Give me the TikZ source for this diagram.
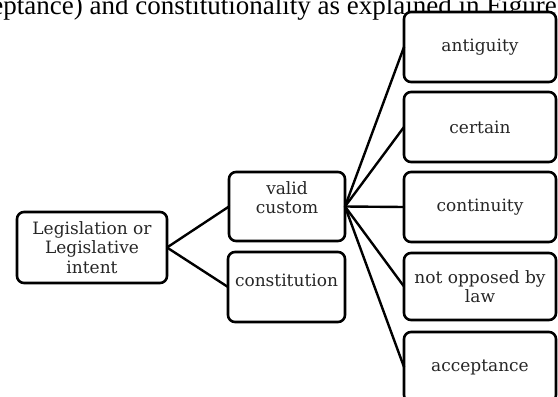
\documentclass[tikz,border=0pt]{standalone}
\usepackage{fontspec}
\setmainfont{DejaVu Serif}
\newfontfamily\topfont{Liberation Serif}
\begin{document}
\begin{tikzpicture}[x=1pt,y=-1pt,
  box/.style={draw=black, line width=2.6pt, rounded corners=7pt, fill=white,
    align=center, outer sep=0pt, inner sep=1pt,
    font=\fontsize{17}{19.5}\selectfont, text=black!85},
  link/.style={draw=black, line width=2.4pt, line cap=round}]
\useasboundingbox (0,0) rectangle (558,397);
\fill[white] (0,0) rectangle (558,397);
\node[anchor=base east, font=\topfont\fontsize{27}{30}\selectfont, inner sep=0pt] (top) at (557,14.5) {eptance) and constitutionality as explained in Figure};
\node[box, minimum width=150pt, minimum height=71pt] (leg) at (92,247.5) {Legislation or\\Legislative\\intent};
\node[box, minimum width=116pt, minimum height=69pt] (valid) at (287,206.5) {valid\\custom\\[-2pt]};
\node[box, minimum width=117pt, minimum height=70pt] (const) at (286.5,287) {constitution\\[-6pt]};
\node[box, minimum width=152pt, minimum height=70pt] (anti) at (480,47) {antiguity};
\node[box, minimum width=152pt, minimum height=70pt] (cert) at (480,127) {certain};
\node[box, minimum width=152pt, minimum height=70pt] (cont) at (480,207) {continuity};
\node[box, minimum width=152pt, minimum height=67pt] (notopp) at (480,286.5) {not opposed by\\law};
\node[box, minimum width=152pt, minimum height=70pt] (accept) at (480,367) {acceptance};
\draw[link] (leg.east) -- (valid.west);
\draw[link] (leg.east) -- (const.west);
\draw[link] (valid.east) -- (anti.west);
\draw[link] (valid.east) -- (cert.west);
\draw[link] (valid.east) -- (cont.west);
\draw[link] (valid.east) -- (notopp.west);
\draw[link] (valid.east) -- (accept.west);
\end{tikzpicture}
\end{document}
